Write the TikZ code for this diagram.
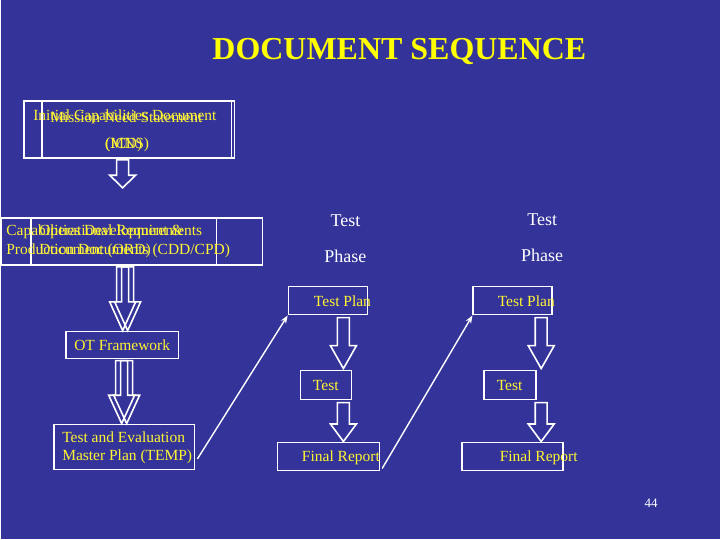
\documentclass[tikz,border=0pt]{standalone}
\usepackage{fontspec}
\usetikzlibrary{arrows.meta}
\setmainfont{Liberation Serif}
\begin{document}
\begin{tikzpicture}[x=1pt,y=-1pt,
  box/.style={draw=white,line width=1.6pt,inner sep=0pt},
  txt/.style={text=yellow!80!white,font=\fontsize{15.5}{18}\selectfont,anchor=west},
  wt/.style={text=white,font=\fontsize{18}{20}\selectfont},
  blk/.style={draw=white,line width=1.6pt,line join=miter},
  thin/.style={draw=white,line width=1.4pt,-{Stealth[length=8pt,width=6pt]}}]
\fill[fill={rgb,255:red,51;green,51;blue,153}] (0,0) rectangle (720,540);
\newcommand\barrow[3]{\draw[blk] (#1-6,#2)--(#1+6,#2)--(#1+6,{#2+0.55*(#3-#2)})--(#1+13,{#2+0.55*(#3-#2)})--(#1,#3)--(#1-13,{#2+0.55*(#3-#2)})--(#1-6,{#2+0.55*(#3-#2)})--cycle;}
\node[text={rgb,255:red,255;green,255;blue,0},font=\bfseries\fontsize{32}{36}\selectfont] (title) at (399,52) {DOCUMENT SEQUENCE};
% box 1
\node[box,minimum width=211pt,minimum height=57pt] (b1) at (128.5,129.5) {};
\node[box,minimum width=190pt,minimum height=57pt] (b1i) at (136,129.5) {};
\node[txt] (b1a) at (29,117) {Initial Capabilities Document};
\node[txt] (b1b) at (46,117) {Mission Need Statement};
\node[txt] (b1c) at (101,145) {(ICD)};
\node[txt] (b1d) at (101,145) {(MNS)};
% box 2
\node[box,minimum width=262pt,minimum height=47pt] (b2) at (131,241.5) {};
\node[box,minimum width=186pt,minimum height=47pt] (b2i) at (123,241.5) {};
\node[txt] (b2a) at (2,232) {Capabilities Development \&};
\node[txt] (b2b) at (2,251) {Production Documents (CDD/CPD)};
\node[txt] (b2c) at (35,232) {Operational Requirements};
\node[txt] (b2d) at (35,251) {Document (ORD)};
% OT and TEMP
\node[box,minimum width=113pt,minimum height=27pt] (ot) at (121.5,345.5) {};
\node[txt] (otl) at (70,346) {OT Framework};
\node[box,minimum width=141pt,minimum height=45pt] (temp) at (123.5,447.5) {};
\node[txt,align=left] (templ) at (58,448) {Test and Evaluation\\Master Plan (TEMP)};
% test phases
\node[wt] (tp1) at (345,221) {Test};
\node[wt] (ph1) at (345,257) {Phase};
\node[wt] (tp2) at (542,220) {Test};
\node[wt] (ph2) at (542,256) {Phase};
\node[box,minimum width=79pt,minimum height=28pt] (pl1) at (327.5,301) {};
\node[txt] (pl1l) at (310,302) {Test Plan};
\node[box,minimum width=79pt,minimum height=28pt] (pl2) at (512.5,301) {};
\node[txt] (pl2l) at (494,302) {Test Plan};
\node[box,minimum width=51pt,minimum height=29pt] (t1) at (325.5,385.5) {};
\node[txt] (t1l) at (309,386) {Test};
\node[box,minimum width=52pt,minimum height=29pt] (t2) at (510,385.5) {};
\node[txt] (t2l) at (493,386) {Test};
\node[box,minimum width=102pt,minimum height=28pt] (f1) at (328,457) {};
\node[txt] (f1l) at (298,458) {Final Report};
\node[box,minimum width=101pt,minimum height=28pt] (f2) at (512.5,457) {};
\node[txt] (f2l) at (496,458) {Final Report};
\node[text=white,font=\fontsize{13}{15}\selectfont] (pg) at (651,504) {44};
% block arrows
\barrow{122}{160}{188}
\barrow{122}{267}{331}
\barrow{127}{267}{331}
\barrow{121}{361}{424}
\barrow{126}{361}{424}
\barrow{343}{318}{369}
\barrow{343}{403}{442}
\barrow{541}{318}{369}
\barrow{541}{403}{442}
% thin arrows
\draw[thin] (temp.east)++(2,12) -- (pl1.south west);
\draw[thin] (f1.east)++(2,12) -- (pl2.south west);
\end{tikzpicture}
\end{document}
